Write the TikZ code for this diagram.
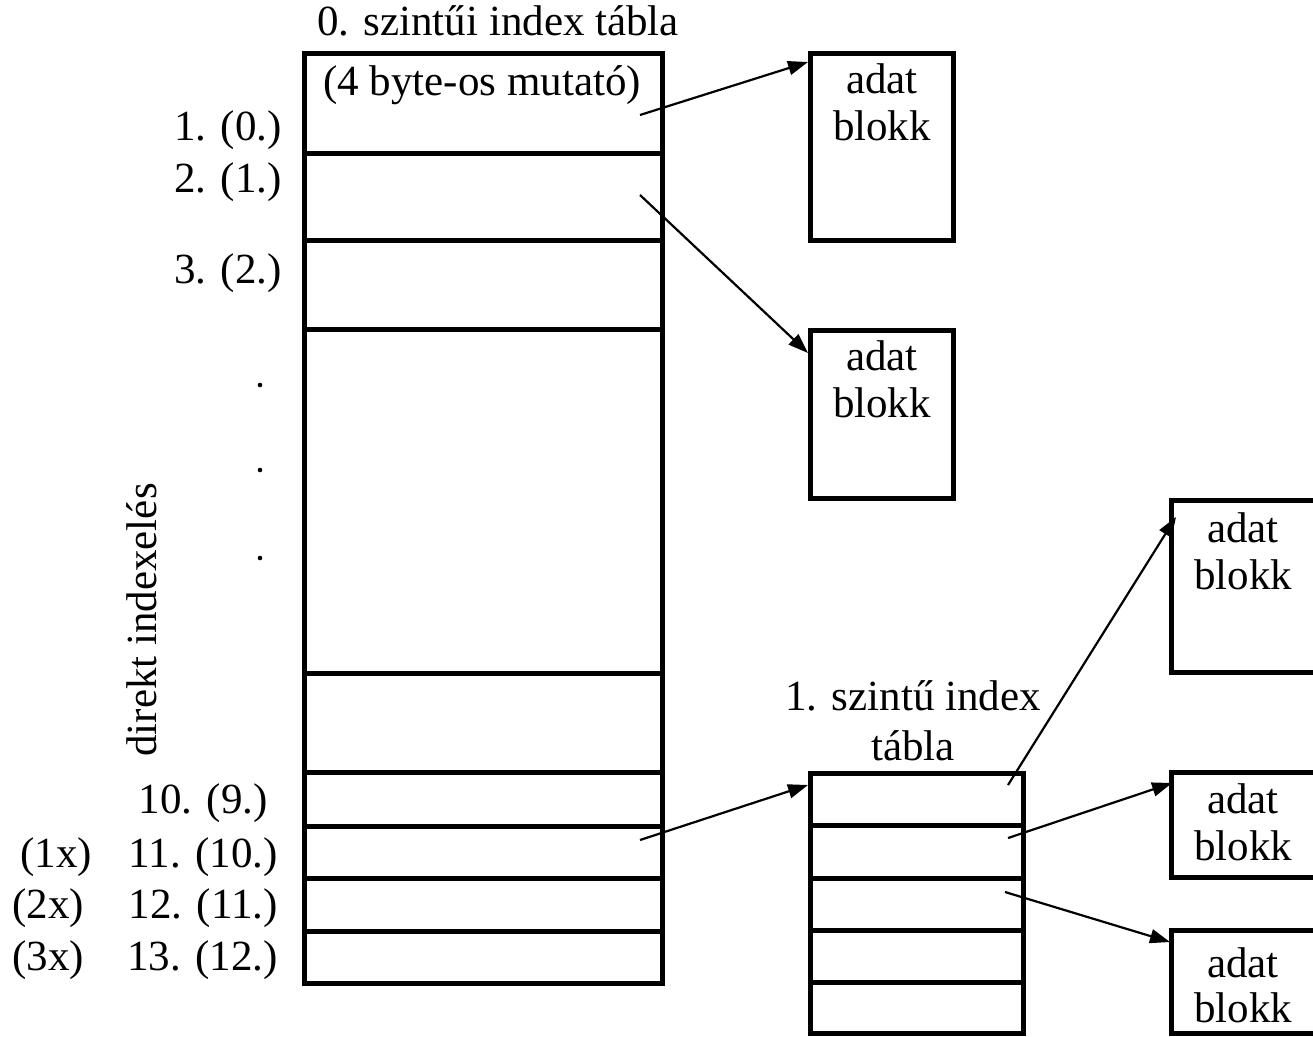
\documentclass[tikz,border=0pt]{standalone}
\usepackage{fontspec}
\setmainfont{Liberation Serif}
\usetikzlibrary{arrows.meta}
\begin{document}
\begin{tikzpicture}[x=1pt,y=-1pt,
  box/.style={draw, line width=5pt, anchor=north west, inner sep=0pt, outer sep=0pt},
  rowline/.style={line width=5pt},
  lbl/.style={inner sep=0pt, font=\fontsize{43}{49}\selectfont},
  ptr/.style={line width=2.2pt, -{Triangle[length=20pt,width=14pt]}},
]
\useasboundingbox (0,0) rectangle (1313,1036);
\begin{scope}
\clip (0,0) rectangle (1313,1036);
% main (0. level) table
\node[box, minimum width=358pt, minimum height=930pt] (main) at (304,53) {};
\foreach \yy in {153,240,329,673,772,826,878,931}
  \draw[rowline] (304,\yy) -- (662,\yy);
% data blocks
\node[box, minimum width=143pt, minimum height=187pt] (blk1) at (810,53) {};
\node[box, minimum width=143pt, minimum height=168pt] (blk2) at (810,330) {};
\node[box, minimum width=170pt, minimum height=172pt] (blk3) at (1171,500) {};
\node[box, minimum width=170pt, minimum height=105pt] (blk4) at (1171,772) {};
\node[box, minimum width=170pt, minimum height=103pt] (blk5) at (1171,930) {};
% 1st level table
\node[box, minimum width=213pt, minimum height=260pt] (sec) at (810,773) {};
\foreach \yy in {825,878,930,982}
  \draw[rowline] (810,\yy) -- (1023,\yy);
\end{scope}

% texts
\node[lbl, anchor=base] (t0) at (498,35) {0. szintűi index tábla};
\node[lbl, anchor=base] (t1) at (482,95) {(4 byte-os mutató)};
\node[lbl, anchor=base east] (r1) at (282,140) {1. (0.)};
\node[lbl, anchor=base east] (r2) at (282,192) {2. (1.)};
\node[lbl, anchor=base east] (r3) at (282,283) {3. (2.)};
\node[lbl, anchor=base east] (r10) at (268,813) {10. (9.)};
\node[lbl, anchor=base east] (r11) at (278,867) {11. (10.)};
\node[lbl, anchor=base east] (r12) at (278,918) {12. (11.)};
\node[lbl, anchor=base east] (r13) at (278,970) {13. (12.)};
\node[lbl, anchor=base west] (x1) at (20,867) {(1x)};
\node[lbl, anchor=base west] (x2) at (12,918) {(2x)};
\node[lbl, anchor=base west] (x3) at (12,970) {(3x)};
\fill (260,385) circle (2.3pt) (260,470) circle (2.3pt) (260,558) circle (2.3pt);
\node[lbl, rotate=90, anchor=base] (dir) at (156,620) {direkt indexelés};

\node[lbl, anchor=base] (a1) at (882,93) {adat};
\node[lbl, anchor=base] (b1) at (882,140) {blokk};
\node[lbl, anchor=base] (a2) at (882,370) {adat};
\node[lbl, anchor=base] (b2) at (882,417) {blokk};
\node[lbl, anchor=base] (a3) at (1243,542) {adat};
\node[lbl, anchor=base] (b3) at (1243,589) {blokk};
\node[lbl, anchor=base] (a4) at (1243,813) {adat};
\node[lbl, anchor=base] (b4) at (1243,860) {blokk};
\node[lbl, anchor=base] (a5) at (1243,977) {adat};
\node[lbl, anchor=base] (b5) at (1243,1022) {blokk};
\node[lbl, anchor=base] (s1) at (913,710) {1. szintű index};
\node[lbl, anchor=base] (s2) at (913,760) {tábla};

% pointer coordinates
\coordinate (p1) at (640,115);
\coordinate (p2) at (640,195);
\coordinate (p3) at (640,840);
\coordinate (q1) at (1008,785);
\coordinate (q2) at (1008,838);
\coordinate (q3) at (1005,892);
\coordinate (e1) at (808,62);
\coordinate (e2) at (808,353);
\coordinate (e3) at (808,785);
\coordinate (f1) at (1176,517);
\coordinate (f2) at (1172,783);
\coordinate (f3) at (1170,942);
\draw[ptr] (p1) -- (e1);
\draw[ptr] (p2) -- (e2);
\draw[ptr] (p3) -- (e3);
\draw[ptr] (q1) -- (f1);
\draw[ptr] (q2) -- (f2);
\draw[ptr] (q3) -- (f3);
\end{tikzpicture}
\end{document}
